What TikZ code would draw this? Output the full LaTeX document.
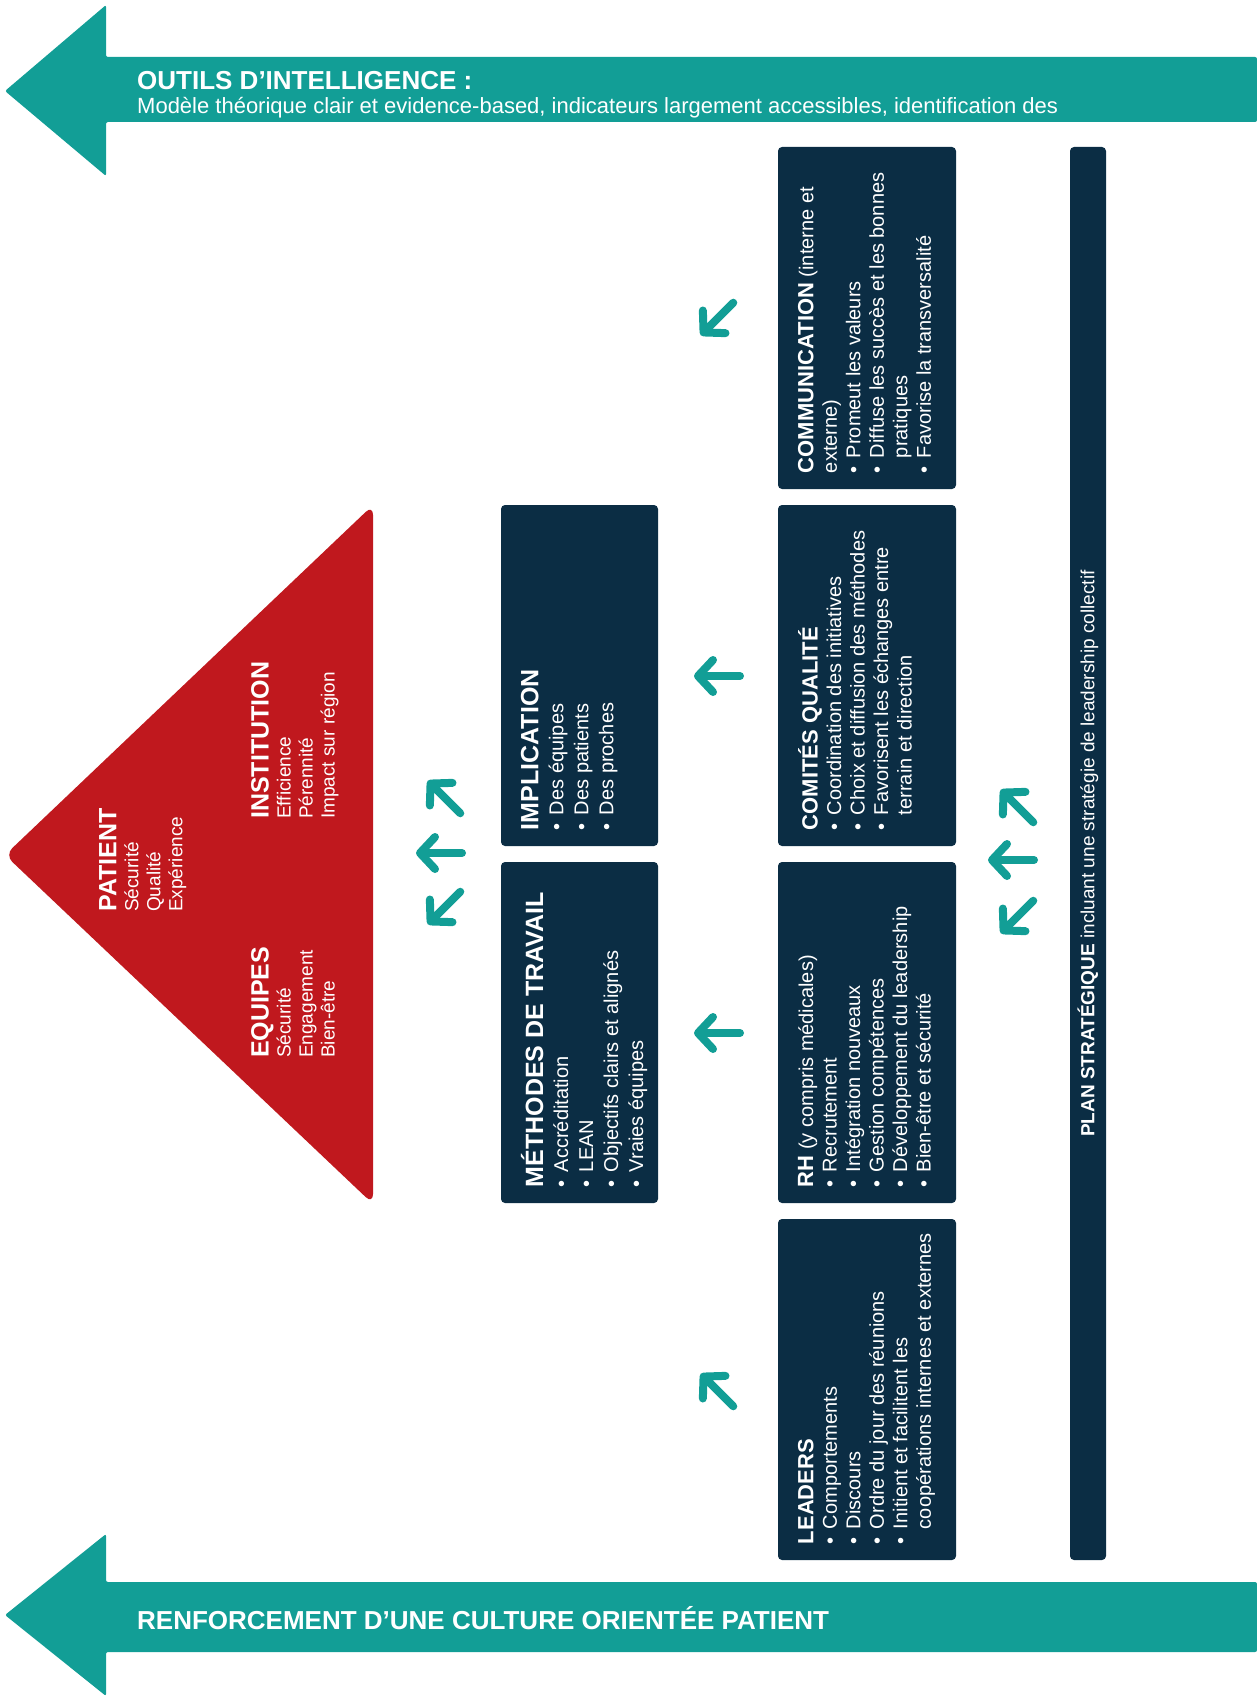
\documentclass[tikz,border=0pt]{standalone}
\usepackage{fontspec}
\setmainfont{Liberation Sans}
\usetikzlibrary{arrows.meta}
\definecolor{sarcelle}{RGB}{18,158,150}
\definecolor{marine}{RGB}{11,45,68}
\definecolor{rouge}{RGB}{192,24,30}
\newcommand{\puce}{\makebox[15pt][l]{\textbullet}}
\newcommand{\retrait}{\hspace*{15pt}}
\newcommand{\titreA}[1]{{\fontsize{25}{25}\selectfont\bfseries #1}}
\newcommand{\titreB}[1]{{\fontsize{22}{22}\selectfont\bfseries #1}}
\begin{document}
\begin{tikzpicture}[x=1pt,y=-1pt,
    boite/.style={fill=marine,rounded corners=4pt,inner sep=0pt},
    txt/.style={rotate=90,anchor=north west,align=left,text=white,
        inner sep=0pt,font=\fontsize{20}{23.5}\selectfont},
    txtA/.style={txt,font=\fontsize{20}{25}\selectfont},
    tri/.style={txt,font=\fontsize{19}{22}\selectfont},
    bande/.style={anchor=base west,text=white,inner sep=0pt},
    fleche/.style={draw=sarcelle,line width=8pt,line cap=round,
        -{Straight Barb[length=15pt,width=32pt,round]}}
]
    \useasboundingbox (0,0) rectangle (1257,1696);

    \fill[sarcelle,rounded corners=2pt] (1257,57) -- (106,57) -- (106,5) -- (5,91)
        -- (106,176) -- (106,122) -- (1257,122) -- cycle;
    \fill[sarcelle,rounded corners=2pt] (1257,1582) -- (106,1582) -- (106,1534) -- (5,1615)
        -- (106,1696) -- (106,1652) -- (1257,1652) -- cycle;
    \node[bande,font=\fontsize{26}{26}\selectfont\bfseries] (outils) at (137,90)
        {OUTILS D’INTELLIGENCE :};
    \node[bande,font=\fontsize{22}{22}\selectfont] (modele) at (137,114)
        {Modèle théorique clair et evidence-based, indicateurs largement accessibles, identification des};
    \node[bande,font=\fontsize{26}{26}\selectfont\bfseries] (renfo) at (137,1629)
        {RENFORCEMENT D’UNE CULTURE ORIENTÉE PATIENT};

    \fill[rouge,rounded corners=10pt] (5,855) -- (373,505) -- (373,1204) -- cycle;
    \node[tri] (patient) at (99,912) {\titreA{PATIENT}\\Sécurité\\Qualité\\Expérience};
    \node[tri] (equipes) at (251,1058) {\titreA{EQUIPES}\\Sécurité\\Engagement\\Bien-être};
    \node[tri] (instit) at (251,819) {\titreA{INSTITUTION}\\Efficience\\Pérennité\\Impact sur région};

    \node[boite,minimum width=157,minimum height=341] (impl) at (579.5,675.5) {};
    \node[boite,minimum width=157,minimum height=341] (methodes) at (579.5,1032.5) {};
    \node[boite,minimum width=178,minimum height=342] (comm) at (867,318) {};
    \node[boite,minimum width=178,minimum height=341] (comite) at (867,675.5) {};
    \node[boite,minimum width=178,minimum height=341] (rh) at (867,1032.5) {};
    \node[boite,minimum width=178,minimum height=341] (leaders) at (867,1389.5) {};
    \node[boite,minimum width=36,minimum height=1413] (plan) at (1088,853.5) {};

    \node[txtA] (impltxt) at ([shift={(20,-16)}]impl.south west)
        {\titreA{IMPLICATION}\\\puce Des équipes\\\puce Des patients\\\puce Des proches};
    \node[txtA] (methtxt) at ([shift={(20,-16)}]methodes.south west)
        {\titreA{MÉTHODES DE TRAVAIL}\\\puce Accréditation\\\puce LEAN\\
        \puce Objectifs clairs et alignés\\\puce Vraies équipes};
    \node[txt] (commtxt) at ([shift={(20,-16)}]comm.south west)
        {\titreB{COMMUNICATION} (interne et\\externe)\\\puce Promeut les valeurs\\
        \puce Diffuse les succès et les bonnes\\\retrait pratiques\\\puce Favorise la transversalité};
    \node[txt] (comitetxt) at ([shift={(20,-16)}]comite.south west)
        {\titreB{COMITÉS QUALITÉ}\\\puce Coordination des initiatives\\
        \puce Choix et diffusion des méthodes\\\puce Favorisent les échanges entre\\
        \retrait terrain et direction};
    \node[txt] (rhtxt) at ([shift={(20,-16)}]rh.south west)
        {\titreB{RH} (y compris médicales)\\\puce Recrutement\\\puce Intégration nouveaux\\
        \puce Gestion compétences\\\puce Développement du leadership\\\puce Bien-être et sécurité};
    \node[txt] (leaderstxt) at ([shift={(20,-16)}]leaders.south west)
        {\titreB{LEADERS}\\\puce Comportements\\\puce Discours\\\puce Ordre du jour des réunions\\
        \puce Initient et facilitent les\\\retrait coopérations internes et externes};
    \node[rotate=90,text=white,inner sep=0pt,font=\fontsize{19}{19}\selectfont] (plantxt)
        at (plan.center) {\textbf{PLAN STRATÉGIQUE} incluant une stratégie de leadership collectif};

    \foreach \n/\x/\y/\a in {a/717/319/135,b/717/676/180,c/717/1033/180,d/717/1390/225,
        e/444/797/225,f/439/853/180,g/444/908/135,h/1017/806/225,i/1011/860/180,j/1017/917/135}{
        \coordinate (fl\n) at (\x,\y);
        \draw[fleche] ([shift={(\a+180:23)}]fl\n) -- ([shift={(\a:23)}]fl\n);
    }
\end{tikzpicture}
\end{document}
